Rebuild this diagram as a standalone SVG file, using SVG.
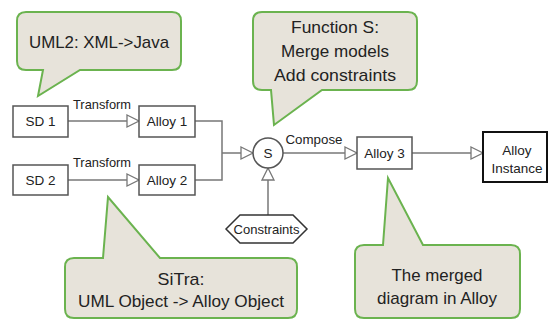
<svg xmlns="http://www.w3.org/2000/svg" width="550" height="322" viewBox="0 0 550 322">
<style>
text{font-family:"Liberation Sans",Arial,sans-serif;fill:#222;text-anchor:middle;dominant-baseline:central}
.box{fill:#fff;stroke:#555;stroke-width:1.5}
.call{fill:#e7e3da;stroke:#6bb34f;stroke-width:2;stroke-linejoin:miter}
.c{fill:none;stroke:#777;stroke-width:1.5}
.ct{font-size:17px}
.bt{font-size:13.5px}
</style>
<defs>
<marker id="tri" markerUnits="userSpaceOnUse" markerWidth="16" markerHeight="16" refX="13" refY="7" orient="auto">
<path d="M1,1 L13,7 L1,13 Z" fill="#fff" stroke="#777" stroke-width="1.3"/>
</marker>
</defs>
<rect width="550" height="322" fill="#fff"/>
<g id="connectors">
<path class="c" d="M68,121 H139" marker-end="url(#tri)"/>
<path class="c" d="M68,180 H139" marker-end="url(#tri)"/>
<path class="c" d="M195,121 H222 V180 H195"/>
<path class="c" d="M222,153 H253" marker-end="url(#tri)"/>
<path class="c" d="M283,153 H357" marker-end="url(#tri)"/>
<path class="c" d="M412,153 H483" marker-end="url(#tri)"/>
<path class="c" d="M268,215 V168" marker-end="url(#tri)"/>
<text x="102" y="104" font-size="13" textLength="58" lengthAdjust="spacingAndGlyphs">Transform</text>
<text x="102" y="162" font-size="13" textLength="58" lengthAdjust="spacingAndGlyphs">Transform</text>
<text x="314" y="139" font-size="13.5" textLength="57" lengthAdjust="spacingAndGlyphs">Compose</text>
</g>
<g id="sd1"><rect class="box" x="13" y="106" width="55" height="31"/><text class="bt" x="40.5" y="121.5">SD 1</text></g>
<g id="sd2"><rect class="box" x="13" y="165" width="55" height="30"/><text class="bt" x="40.5" y="180">SD 2</text></g>
<g id="alloy1"><rect class="box" x="139" y="106" width="56" height="31"/><text class="bt" x="167" y="121.5">Alloy 1</text></g>
<g id="alloy2"><rect class="box" x="139" y="165" width="56" height="30"/><text class="bt" x="167" y="180">Alloy 2</text></g>
<g id="s"><circle cx="268" cy="153" r="15" fill="#fff" stroke="#555" stroke-width="1.5"/><text class="bt" x="268" y="153">S</text></g>
<g id="constraints"><path d="M226,229 L240,215 H293 L307,229 L293,243 H240 Z" fill="#fff" stroke="#333" stroke-width="1.5"/><text x="266.5" y="229" font-size="13" textLength="66" lengthAdjust="spacingAndGlyphs">Constraints</text></g>
<g id="alloy3"><rect class="box" x="357" y="137" width="55" height="32"/><text class="bt" x="384.5" y="153">Alloy 3</text></g>
<g id="instance"><rect x="483" y="132" width="64" height="50" fill="#fff" stroke="#111" stroke-width="2"/><text class="bt" x="517" y="150">Alloy</text><text class="bt" x="517" y="168">Instance</text></g>
<g id="callout-uml2">
<path class="call" d="M26,12 H172 Q181,12 181,21 V61 Q181,70 172,70 H80 L38,96 L43,70 H26 Q17,70 17,61 V21 Q17,12 26,12 Z"/>
<text class="ct" x="99" y="42" textLength="140" lengthAdjust="spacingAndGlyphs">UML2: XML-&gt;Java</text>
</g>
<g id="callout-function">
<path class="call" d="M262,12 H408 Q417,12 417,21 V81 Q417,90 408,90 H322 L274,125 L271,90 H262 Q253,90 253,81 V21 Q253,12 262,12 Z"/>
<text class="ct" x="335" y="27" textLength="88" lengthAdjust="spacingAndGlyphs">Function S:</text>
<text class="ct" x="335" y="51" textLength="108" lengthAdjust="spacingAndGlyphs">Merge models</text>
<text class="ct" x="335" y="75" textLength="122" lengthAdjust="spacingAndGlyphs">Add constraints</text>
</g>
<g id="callout-sitra">
<path class="call" d="M74,258 H103 L108,197 L160,258 H288 Q297,258 297,267 V309 Q297,318 288,318 H74 Q65,318 65,309 V267 Q65,258 74,258 Z"/>
<text class="ct" x="181" y="279" textLength="47" lengthAdjust="spacingAndGlyphs">SiTra:</text>
<text class="ct" x="181" y="301" textLength="206" lengthAdjust="spacingAndGlyphs">UML Object -&gt; Alloy Object</text>
</g>
<g id="callout-merged">
<path class="call" d="M364,245 H383 L388,178 L423,245 H511 Q520,245 520,254 V309 Q520,318 511,318 H364 Q355,318 355,309 V254 Q355,245 364,245 Z"/>
<text class="ct" x="437" y="275" textLength="91" lengthAdjust="spacingAndGlyphs">The merged</text>
<text class="ct" x="437" y="298" textLength="120" lengthAdjust="spacingAndGlyphs">diagram in Alloy</text>
</g>
</svg>
